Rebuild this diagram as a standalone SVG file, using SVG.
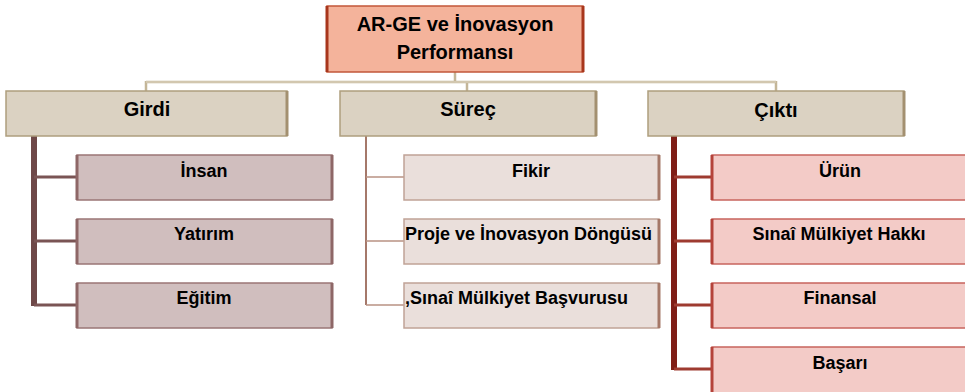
<svg xmlns="http://www.w3.org/2000/svg" width="965" height="392" viewBox="0 0 965 392">
<style>
text{font-family:"Liberation Sans",Arial,sans-serif;font-weight:bold;fill:#000;text-anchor:middle}
.h{font-size:20px}
.c{font-size:18px}
.top{fill:#F4B39B;stroke:#C2573A;stroke-width:1.5}
.hd{fill:#DBD2C2;stroke:#AE9E7E;stroke-width:1.5}
.g{fill:#D0BEBE;stroke:#9A7676;stroke-width:1.5}
.s{fill:#EADFDB;stroke:#C0A396;stroke-width:1.5}
.o{fill:#F3CBC7;stroke:#C8645E;stroke-width:1.5}
.cn{fill:none}
</style>
<g id="connectors" class="cn">
<path d="M455,72V82M146,82H776M146,81V91M467,81V91M776,81V91" stroke="#C4B698" stroke-width="2.5"/>
<path d="M146,82H776" stroke="#E8E1D2" stroke-width="0.8"/>
<path d="M34,136V306" stroke="#6E4848" stroke-width="6"/>
<path d="M34,177H77M34,241H77M34,305H77" stroke="#7A5454" stroke-width="3"/>
<path d="M366,136V305" stroke="#A5786A" stroke-width="2"/>
<path d="M366,177H404M366,241H404M366,305H404" stroke="#B99384" stroke-width="1.5"/>
<path d="M674,136V370" stroke="#7F1E16" stroke-width="6"/>
<path d="M674,177H712M674,241H712M674,305H712M674,369H712" stroke="#9E3B30" stroke-width="3"/>
</g>
<g id="n-root">
<rect class="top" x="327" y="6" width="256" height="66"/>
<path d="M327,6V72M583,6V72" stroke="#A8361C" stroke-width="3"/>
<text class="h" x="455" y="31">AR-GE ve İnovasyon</text>
<text class="h" x="455" y="59">Performansı</text>
</g>
<g id="n-girdi">
<rect class="hd" x="6" y="91" width="281" height="45"/>
<path d="M287,91V136" stroke="#A39070" stroke-width="3"/>
<text class="h" x="147" y="116">Girdi</text>
</g>
<g id="n-surec">
<rect class="hd" x="340" y="91" width="256" height="45"/>
<path d="M596,91V136" stroke="#A39070" stroke-width="3"/>
<text class="h" x="468" y="116">Süreç</text>
</g>
<g id="n-cikti">
<rect class="hd" x="648" y="91" width="256" height="45"/>
<path d="M904,91V136" stroke="#A39070" stroke-width="3"/>
<text class="h" x="776" y="117">Çıktı</text>
</g>
<g id="n-insan">
<rect class="g" x="77" y="155" width="255" height="45"/>
<path d="M77,155V200M332,155V200" stroke="#8E6767" stroke-width="3"/>
<text class="c" x="204" y="177">İnsan</text>
</g>
<g id="n-yatirim">
<rect class="g" x="77" y="219" width="255" height="45"/>
<path d="M77,219V264M332,219V264" stroke="#8E6767" stroke-width="3"/>
<text class="c" x="204" y="240">Yatırım</text>
</g>
<g id="n-egitim">
<rect class="g" x="77" y="283" width="255" height="45"/>
<path d="M77,283V328M332,283V328" stroke="#8E6767" stroke-width="3"/>
<text class="c" x="204" y="304">Eğitim</text>
</g>
<g id="n-fikir">
<rect class="s" x="404" y="155" width="255" height="45"/>
<path d="M659,155V200" stroke="#A57868" stroke-width="3"/>
<text class="c" x="531" y="177">Fikir</text>
</g>
<g id="n-proje">
<rect class="s" x="404" y="219" width="255" height="45"/>
<path d="M659,219V264" stroke="#A57868" stroke-width="3"/>
<text class="c" x="405" y="240" style="text-anchor:start">Proje ve İnovasyon Döngüsü</text>
</g>
<g id="n-basvuru">
<rect class="s" x="404" y="283" width="255" height="45"/>
<path d="M659,283V328" stroke="#A57868" stroke-width="3"/>
<text class="c" x="405" y="304" style="text-anchor:start">,Sınaî Mülkiyet Başvurusu</text>
</g>
<g id="n-urun">
<rect class="o" x="712" y="155" width="260" height="45"/>
<path d="M712,155V200" stroke="#B5433A" stroke-width="3"/>
<text class="c" x="840" y="177">Ürün</text>
</g>
<g id="n-hak">
<rect class="o" x="712" y="219" width="260" height="45"/>
<path d="M712,219V264" stroke="#B5433A" stroke-width="3"/>
<text class="c" x="839" y="240">Sınaî Mülkiyet Hakkı</text>
</g>
<g id="n-finansal">
<rect class="o" x="712" y="283" width="260" height="45"/>
<path d="M712,283V328" stroke="#B5433A" stroke-width="3"/>
<text class="c" x="840" y="304">Finansal</text>
</g>
<g id="n-basari">
<rect class="o" x="712" y="347" width="260" height="50"/>
<path d="M712,347V392" stroke="#B5433A" stroke-width="3"/>
<text class="c" x="840" y="369">Başarı</text>
</g>
</svg>
